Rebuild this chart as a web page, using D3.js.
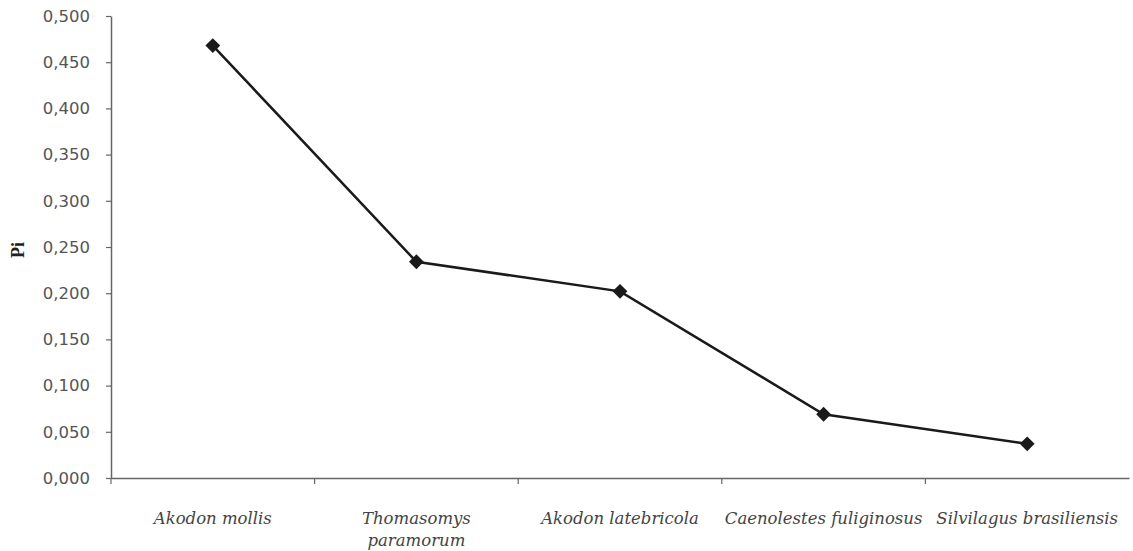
<!DOCTYPE html>
<html><head><meta charset="utf-8">
<script src="https://cdn.jsdelivr.net/npm/d3@7"></script>
<style>body{margin:0;background:#fff}</style>
</head><body>
<svg id="c" width="1133" height="551"></svg>
<script>
const categories = [["Akodon mollis"], ["Thomasomys", "paramorum"], ["Akodon latebricola"], ["Caenolestes fuliginosus"], ["Silvilagus brasiliensis"]];
const values = [0.468, 0.234, 0.202, 0.069, 0.037];
const yTicks = [0, 0.05, 0.1, 0.15, 0.2, 0.25, 0.3, 0.35, 0.4, 0.45, 0.5];
const yTitle = "Pi";

(function () {
const svg = d3.select("#c");
const mLeft = 111, mRight = 1129, mTop = 16, mBottom = 478;
const names = categories.map(c => c.join(" "));
const x = d3.scaleBand().domain(names).range([mLeft, mRight]);
const y = d3.scaleLinear().domain([0, 0.5]).range([mBottom, mTop]);
const fmt = v => d3.format(".3f")(v).replace(".", ",");

const ya = svg.append("g").attr("transform", `translate(${mLeft},0)`)
  .call(d3.axisLeft(y).tickValues(yTicks).tickFormat(fmt).tickSize(5).tickSizeOuter(0));
ya.select(".domain").attr("stroke", "#666").attr("stroke-width", 1.5);
ya.selectAll(".tick line").attr("stroke", "#666").attr("stroke-width", 1.2);
ya.selectAll(".tick text").attr("font-family", "DejaVu Sans").attr("font-size", 16.5)
  .attr("fill", "#555").attr("x", -21);

const xa = svg.append("g").attr("transform", `translate(0,${mBottom})`)
  .call(d3.axisBottom(x).tickValues([]).tickSizeOuter(0));
xa.select(".domain").attr("stroke", "#666").attr("stroke-width", 1.5);
svg.append("g").selectAll("line").data(names.slice(1)).join("line")
  .attr("x1", d => x(d)).attr("x2", d => x(d))
  .attr("y1", mBottom).attr("y2", mBottom + 6)
  .attr("stroke", "#666").attr("stroke-width", 1.2);
svg.append("line").attr("x1", mLeft).attr("x2", mLeft).attr("y1", mBottom).attr("y2", mBottom + 6)
  .attr("stroke", "#666").attr("stroke-width", 1.2);

const lab = svg.append("g").selectAll("text").data(categories).join("text")
  .attr("x", (d, i) => x(names[i]) + x.bandwidth() / 2)
  .attr("y", 524)
  .attr("text-anchor", "middle")
  .attr("font-family", "DejaVu Serif").attr("font-style", "italic")
  .attr("font-size", 16.5).attr("fill", "#444");
lab.selectAll("tspan").data(d => d).join("tspan")
  .attr("x", function() { return d3.select(this.parentNode).attr("x"); })
  .attr("dy", (d, i) => i === 0 ? 0 : 22)
  .text(d => d);

svg.append("text").attr("transform", "translate(24,250) rotate(-90)")
  .attr("text-anchor", "middle").attr("font-family", "Liberation Serif")
  .attr("font-weight", "bold").attr("font-size", 18).attr("fill", "#222").text(yTitle);

const cx = (d, i) => x(names[i]) + x.bandwidth() / 2;
svg.append("path").datum(values)
  .attr("d", d3.line().x(cx).y(d => y(d)))
  .attr("fill", "none").attr("stroke", "#1a1a1a").attr("stroke-width", 2.5);
svg.append("g").selectAll("path").data(values).join("path")
  .attr("d", d3.symbol(d3.symbolDiamond2, 140))
  .attr("transform", (d, i) => `translate(${cx(d, i)},${y(d)})`)
  .attr("fill", "#1a1a1a");
})();
</script>
</body></html>
